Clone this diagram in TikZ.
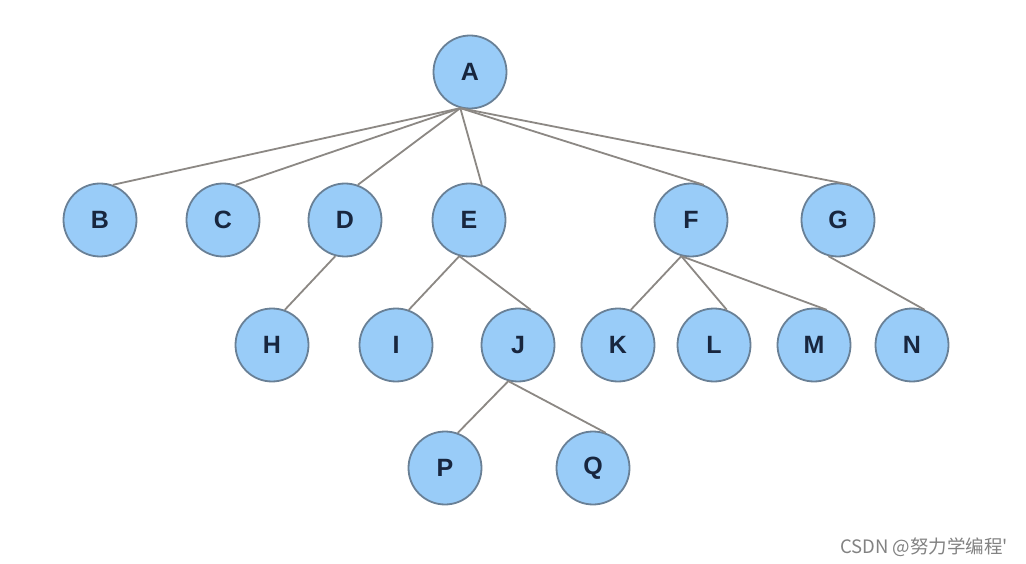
\documentclass[tikz,border=0pt]{standalone}
\usepackage{fontspec}
\setmainfont{Liberation Sans}
\newfontfamily\cjk{Noto Sans CJK SC}
\definecolor{nodefill}{RGB}{153,204,248}
\definecolor{nodeline}{RGB}{105,128,150}
\definecolor{edgecol}{RGB}{140,136,132}
\definecolor{txtcol}{RGB}{24,38,62}
\definecolor{wmcol}{RGB}{130,130,130}
\begin{document}
\begin{tikzpicture}[x=1pt,y=-1pt,
  tnode/.style={circle,draw=nodeline,fill=nodefill,line width=1.8pt,minimum size=73pt,inner sep=0pt,font=\bfseries\fontsize{25}{25}\selectfont,text=txtcol},
  edge/.style={draw=edgecol,line width=1.8pt}]
\useasboundingbox (0,0) rectangle (1026,564);
\fill[white] (0,0) rectangle (1026,564);
\node[tnode] (A) at (470,72) {A};
\node[tnode] (B) at (100,220) {B};
\node[tnode] (C) at (223,220) {C};
\node[tnode] (D) at (345,220) {D};
\node[tnode] (E) at (469,220) {E};
\node[tnode] (F) at (691,220) {F};
\node[tnode] (G) at (838,220) {G};
\node[tnode] (H) at (272,345) {H};
\node[tnode] (I) at (396,345) {I};
\node[tnode] (J) at (518,345) {J};
\node[tnode] (K) at (618,345) {K};
\node[tnode] (L) at (714,345) {L};
\node[tnode] (M) at (814,345) {M};
\node[tnode] (N) at (912,345) {N};
\node[tnode] (P) at (445,468) {P};
\node[tnode] (Q) at (593,468) {Q};
\path[edge] (A.-105) -- (B.70);
\path[edge] (A.-105) -- (C.70);
\path[edge] (A.-105) -- (D.70);
\path[edge] (A.-105) -- (E.70);
\path[edge] (A.-105) -- (F.70);
\path[edge] (A.-105) -- (G.70);
\path[edge] (D.-105) -- (H.70);
\path[edge] (E.-105) -- (I.70);
\path[edge] (E.-105) -- (J.70);
\path[edge] (J.-105) -- (P.70);
\path[edge] (J.-105) -- (Q.70);
\path[edge] (F.-105) -- (K.70);
\path[edge] (F.-105) -- (L.70);
\path[edge] (F.-105) -- (M.70);
\path[edge] (G.-105) -- (N.70);
\node[anchor=base east,text=wmcol,font=\cjk\fontsize{18.5}{18.5}\selectfont,inner sep=0pt] (wm) at (1008,553) {CSDN @努力学编程'};
\end{tikzpicture}
\end{document}
